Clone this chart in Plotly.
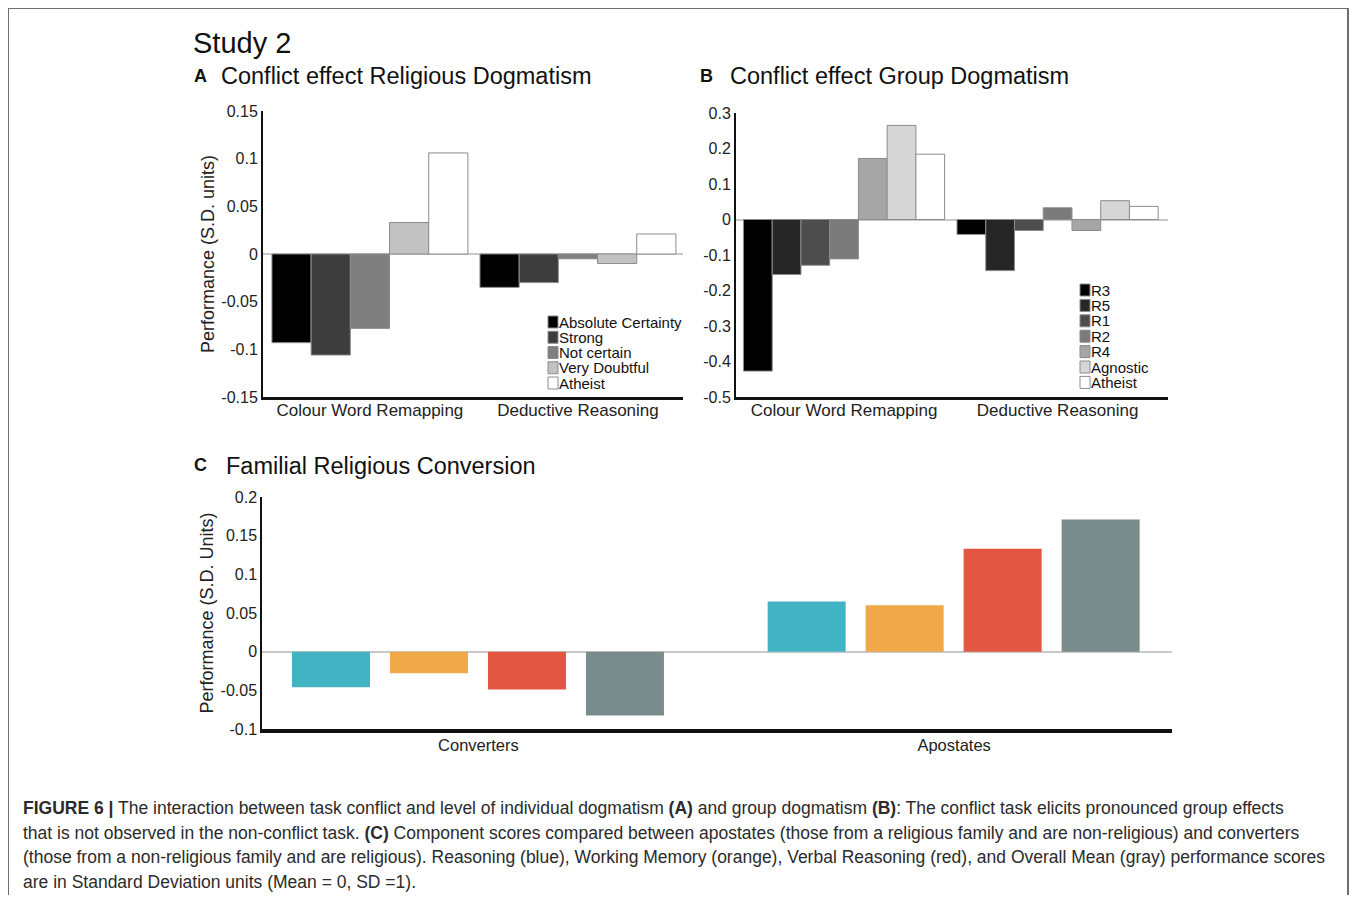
import plotly.graph_objects as go

PAGE_PAD = 8  # default body margin of the html page
W, H = 1357 - 2 * PAGE_PAD, 903 - 2 * PAGE_PAD  # fit the window without scrollbars

# ── data ───────────────────────────────────────────────────────────────────
tasks = ["Colour Word Remapping", "Deductive Reasoning"]

rel_groups = ["Absolute Certainty", "Strong", "Not certain", "Very Doubtful", "Atheist"]
rel_values = [
    [-0.093, -0.035],
    [-0.106, -0.030],
    [-0.078, -0.005],
    [0.033, -0.010],
    [0.106, 0.021],
]

grp_groups = ["R3", "R5", "R1", "R2", "R4", "Agnostic", "Atheist"]
grp_values = [
    [-0.427, -0.042],
    [-0.155, -0.144],
    [-0.129, -0.031],
    [-0.111, 0.033],
    [0.172, -0.031],
    [0.265, 0.053],
    [0.184, 0.037],
]

conv_cats = ["Converters", "Apostates"]
conv_series = ["Reasoning", "Working Memory", "Verbal Reasoning", "Overall Mean"]
conv_values = [
    [-0.046, 0.065],
    [-0.028, 0.060],
    [-0.049, 0.133],
    [-0.0825, 0.171],
]

a_ticks = [-0.15, -0.1, -0.05, 0, 0.05, 0.1, 0.15]
a_ticktext = ["-0.15", "-0.1", "-0.05", "0", "0.05", "0.1", "0.15"]
b_ticks = [-0.5, -0.4, -0.3, -0.2, -0.1, 0, 0.1, 0.2, 0.3]
b_ticktext = ["-0.5", "-0.4", "-0.3", "-0.2", "-0.1", "0", "0.1", "0.2", "0.3"]
c_ticks = [-0.1, -0.05, 0, 0.05, 0.1, 0.15, 0.2]
c_ticktext = ["-0.1", "-0.05", "0", "0.05", "0.1", "0.15", "0.2"]

# ── colours ────────────────────────────────────────────────────────────────
REL_COLORS = ["#000000", "#3d3d3d", "#7f7f7f", "#c2c2c2", "#ffffff"]
GRP_COLORS = ["#000000", "#262626", "#4d4d4d", "#7a7a7a", "#a6a6a6", "#d6d6d6", "#ffffff"]
CONV_COLORS = ["#42b3c2", "#f0a848", "#e35641", "#7a8b8c"]

FONT = "Liberation Sans, Arial, sans-serif"
TXT = "#222222"


# screen pixel -> paper fraction
def px(x):
    return (x - PAGE_PAD) / W


def py(y):
    return 1 - (y - PAGE_PAD) / H


fig = go.Figure()

# panel A
for name, vals, col in zip(rel_groups, rel_values, REL_COLORS):
    fig.add_trace(go.Bar(
        x=tasks, y=vals, name=name, marker=dict(color=col, line=dict(color="#8c8c8c", width=1)),
        xaxis="x", yaxis="y", showlegend=False,
    ))

# panel B
for name, vals, col in zip(grp_groups, grp_values, GRP_COLORS):
    fig.add_trace(go.Bar(
        x=tasks, y=vals, name=name, marker=dict(color=col, line=dict(color="#8c8c8c", width=1)),
        xaxis="x2", yaxis="y2", showlegend=False,
    ))

# panel C - explicit offsets so its spacing differs from A/B
c_width = 0.164
c_step = 0.206
for i, (name, vals, col) in enumerate(zip(conv_series, conv_values, CONV_COLORS)):
    fig.add_trace(go.Bar(
        x=conv_cats, y=vals, name=name, marker=dict(color=col, line=dict(width=0)),
        width=c_width, offset=-0.392 + i * c_step,
        xaxis="x3", yaxis="y3", showlegend=False,
    ))


def xax(dom, rng, lw, size, standoff):
    return dict(
        domain=[px(dom[0]), px(dom[1])], range=rng, type="category",
        showline=True, linecolor="#111111", linewidth=lw, ticks="",
        showgrid=False, zeroline=False, tickfont=dict(size=size, color=TXT, family=FONT),
        ticklabelstandoff=standoff, fixedrange=True, automargin=False,
    )


def yax(dom, rng, vals, text, lw, title=None):
    d = dict(
        domain=[py(dom[1]), py(dom[0])], range=rng,
        showline=True, linecolor="#111111", linewidth=lw, ticks="",
        showgrid=False, zeroline=True, zerolinecolor="#c8c8c8", zerolinewidth=2,
        tickvals=vals, ticktext=text, ticklabelstandoff=0,
        tickfont=dict(size=16, color=TXT, family=FONT), fixedrange=True, automargin=False,
    )
    if title:
        d["title"] = dict(text=title, font=dict(size=18, color=TXT, family=FONT), standoff=2)
    return d


annotations = []


def note(x, y, text, size, xanchor="left", color="#111111"):
    annotations.append(dict(
        x=px(x), y=py(y), xref="paper", yref="paper", text=text, showarrow=False,
        xanchor=xanchor, yanchor="middle", font=dict(size=size, color=color, family=FONT),
    ))


note(191, 43, "Study 2", 29)
note(192, 76, "<b>A</b>", 18)
note(219, 76, "Conflict effect Religious Dogmatism", 23.5)
note(698, 76, "<b>B</b>", 18)
note(728, 76, "Conflict effect Group Dogmatism", 23.5)
note(192, 465, "<b>C</b>", 18)
note(224, 466, "Familial Religious Conversion", 23.5)

# manual legends (compact, like the original)
shapes = []


def legend(names, colors, x0, y0, step, size):
    for i, (name, col) in enumerate(zip(names, colors)):
        yc = y0 + i * step
        shapes.append(dict(
            type="rect", xref="paper", yref="paper",
            x0=px(x0), x1=px(x0 + 10), y0=py(yc + 6), y1=py(yc - 6),
            fillcolor=col, line=dict(color="#8c8c8c", width=1),
        ))
        note(x0 + 9, yc, name, size)


legend(rel_groups, REL_COLORS, 548, 322, 15.25, 15)
legend(grp_groups, GRP_COLORS, 1080, 290, 15.4, 15)

# caption
caption = [
    "<b>FIGURE 6 |</b> The interaction between task conflict and level of individual dogmatism <b>(A)</b> and group dogmatism <b>(B)</b>: The conflict task elicits pronounced group effects",
    "that is not observed in the non-conflict task. <b>(C)</b> Component scores compared between apostates (those from a religious family and are non-religious) and converters",
    "(those from a non-religious family and are religious). Reasoning (blue), Working Memory (orange), Verbal Reasoning (red), and Overall Mean (gray) performance scores",
    "are in Standard Deviation units (Mean = 0, SD =1).",
]
for i, line in enumerate(caption):
    note(21, 808 + i * 24.5, line, 17.5, color="#2b2b2b")

# outer frame (open at the bottom, like the cropped original)
shapes.append(dict(
    type="path", xref="paper", yref="paper",
    path=f"M {px(8)},{py(910)} L {px(8)},{py(8)} L {px(1348)},{py(8)} L {px(1348)},{py(910)}",
    line=dict(color="#6e6e6e", width=2),
))

fig.update_layout(
    width=W, height=H,
    margin=dict(l=0, r=0, t=0, b=0, pad=0, autoexpand=False),
    paper_bgcolor="white", plot_bgcolor="white",
    font=dict(family=FONT, color=TXT),
    barmode="group", bargap=0.058, bargroupgap=0,
    xaxis=xax((263, 683), [-0.514, 1.505], 3, 17, -4),
    yaxis=yax((111, 397), [-0.15, 0.15], a_ticks, a_ticktext, 2, "Performance (S.D. units)"),
    xaxis2=dict(xax((736, 1168), [-0.506, 1.517], 3, 17, -4), anchor="y2"),
    yaxis2=dict(yax((113, 397), [-0.5, 0.3], b_ticks, b_ticktext, 2), anchor="x2"),
    xaxis3=dict(xax((262, 1172), [-0.455, 1.458], 4, 16.5, -2), anchor="y3"),
    yaxis3=dict(yax((497, 729), [-0.1, 0.2], c_ticks, c_ticktext, 1.5, "Performance (S.D. Units)"), anchor="x3"),
    annotations=annotations,
    shapes=shapes,
)
fig.update_layout(xaxis_anchor="y", yaxis_anchor="x")

fig.write_html("out.html")
